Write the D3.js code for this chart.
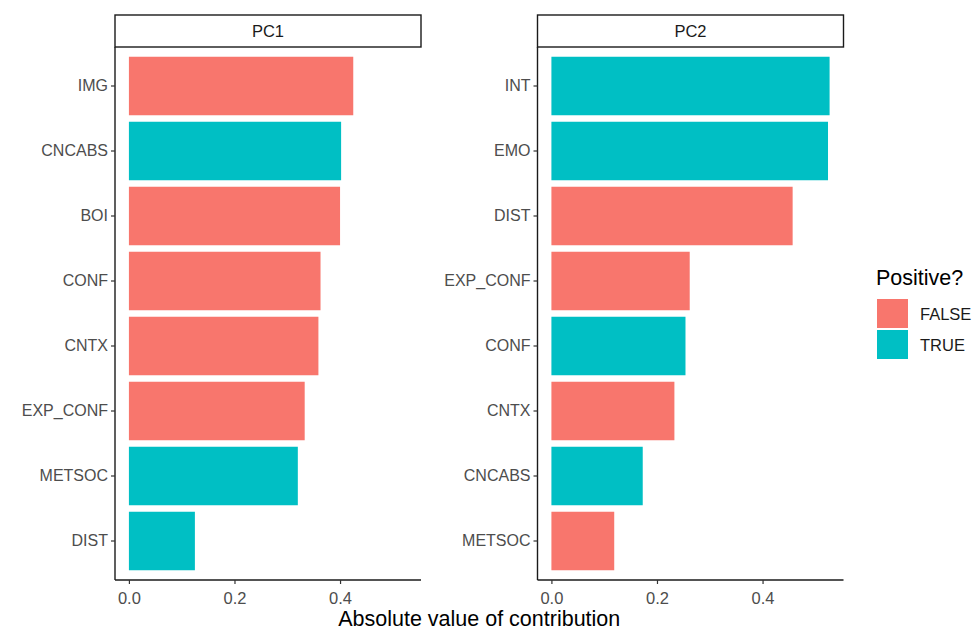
<!DOCTYPE html>
<html>
<head>
<meta charset="utf-8">
<script src="https://cdn.jsdelivr.net/npm/d3@7"></script>
<style>
  html, body { margin: 0; padding: 0; background: #fff; }
  svg { display: block; }
</style>
</head>
<body>
<svg id="chart" width="976" height="630"></svg>
<script>
// ---- Data ----
const pc1Categories = ["IMG", "CNCABS", "BOI", "CONF", "CNTX", "EXP_CONF", "METSOC", "DIST"];
const pc1Values     = [0.425, 0.402, 0.400, 0.363, 0.359, 0.333, 0.320, 0.125];
const pc1Positive   = [false, true, false, false, false, false, true, true];

const pc2Categories = ["INT", "EMO", "DIST", "EXP_CONF", "CONF", "CNTX", "CNCABS", "METSOC"];
const pc2Values     = [0.527, 0.524, 0.457, 0.262, 0.254, 0.233, 0.173, 0.119];
const pc2Positive   = [true, true, false, false, true, false, true, false];

const xTicks = [0.0, 0.2, 0.4];
const xTickLabels = ["0.0", "0.2", "0.4"];
const legendLabels = ["FALSE", "TRUE"];
const legendValues = [false, true];

(function () {
// ---- Layout ----
const svg = d3.select("#chart");
const FONT = "'Liberation Sans', Arial, Helvetica, sans-serif";
const color = d3.scaleOrdinal().domain([false, true]).range(["#F8766D", "#00BFC4"]);

const plotTop = 47, plotBottom = 580, stripTop = 15;
const panels = [
  { name: "PC1", cats: pc1Categories, vals: pc1Values, pos: pc1Positive, x0: 115, x1: 421 },
  { name: "PC2", cats: pc2Categories, vals: pc2Values, pos: pc2Positive, x0: 537.5, x1: 843.5 }
];

const maxVal = d3.max(pc1Values.concat(pc2Values));
const xDomain = [-maxVal * 0.05, maxVal * 1.05];

panels.forEach(p => {
  const g = svg.append("g");
  const x = d3.scaleLinear().domain(xDomain).range([p.x0, p.x1]);
  const y = d3.scaleBand().domain(p.cats).range([plotTop, plotBottom]).paddingInner(0.1).paddingOuter(0.15);

  // strip
  g.append("rect")
    .attr("x", p.x0).attr("y", stripTop)
    .attr("width", p.x1 - p.x0).attr("height", plotTop - stripTop)
    .attr("fill", "#fff").attr("stroke", "#1a1a1a").attr("stroke-width", 1.4);
  g.append("text")
    .attr("x", (p.x0 + p.x1) / 2).attr("y", (stripTop + plotTop) / 2 + 6)
    .attr("text-anchor", "middle")
    .attr("font-family", FONT).attr("font-size", 16.5).attr("fill", "#1a1a1a")
    .text(p.name);

  // bars
  g.selectAll("rect.bar").data(p.cats).enter().append("rect")
    .attr("class", "bar")
    .attr("x", x(0))
    .attr("y", d => y(d))
    .attr("width", (d, i) => x(p.vals[i]) - x(0))
    .attr("height", y.bandwidth())
    .attr("fill", (d, i) => color(p.pos[i]));

  // y axis
  const yAxis = d3.axisLeft(y).tickSize(4).tickPadding(3);
  const ya = g.append("g").attr("transform", `translate(${p.x0},0)`).call(yAxis);
  ya.select(".domain").attr("stroke", "#1a1a1a").attr("stroke-width", 1.4).attr("d", `M0,${plotTop}V${plotBottom}`);
  ya.selectAll(".tick line").attr("stroke", "#333").attr("stroke-width", 1.2);
  ya.selectAll(".tick text").attr("font-family", FONT).attr("font-size", 16).attr("fill", "#4d4d4d");

  // x axis
  const xAxis = d3.axisBottom(x).tickValues(xTicks).tickFormat((d, i) => xTickLabels[i]).tickSize(4).tickPadding(8);
  const xa = g.append("g").attr("transform", `translate(0,${plotBottom})`).call(xAxis);
  xa.select(".domain").attr("stroke", "#1a1a1a").attr("stroke-width", 1.4).attr("d", `M${p.x0},0H${p.x1}`);
  xa.selectAll(".tick line").attr("stroke", "#333").attr("stroke-width", 1.2);
  xa.selectAll(".tick text").attr("font-family", FONT).attr("font-size", 16.5).attr("fill", "#4d4d4d");
});

// x axis title
svg.append("text")
  .attr("x", (panels[0].x0 + panels[1].x1) / 2).attr("y", 626)
  .attr("text-anchor", "middle")
  .attr("font-family", FONT).attr("font-size", 21.5).attr("fill", "#000")
  .text("Absolute value of contribution");

// legend
const lg = svg.append("g");
lg.append("text")
  .attr("x", 876).attr("y", 285)
  .attr("font-family", FONT).attr("font-size", 21.5).attr("fill", "#000")
  .text("Positive?");
legendValues.forEach((v, i) => {
  lg.append("rect")
    .attr("x", 877).attr("y", 299 + i * 31)
    .attr("width", 31).attr("height", 29)
    .attr("fill", color(v));
  lg.append("text")
    .attr("x", 920).attr("y", 299 + i * 31 + 21)
    .attr("font-family", FONT).attr("font-size", 16.5).attr("fill", "#1a1a1a")
    .text(legendLabels[i]);
});
})();
</script>
</body>
</html>
